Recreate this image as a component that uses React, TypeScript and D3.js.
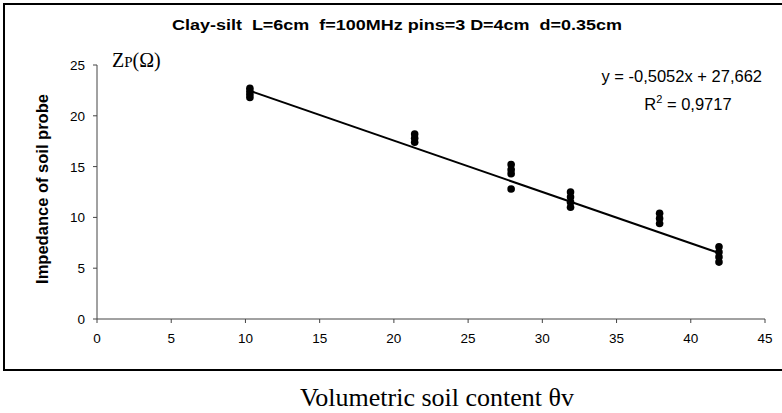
import React from "react";
import * as d3 from "d3";

const xGroups = [10.3, 21.4, 27.9, 31.9, 37.9, 41.9];
const yGroups = [
  [22.7, 22.4, 22.1, 21.8],
  [18.2, 17.8, 17.4],
  [15.2, 14.7, 14.3, 12.8],
  [12.5, 12.0, 11.5, 11.0],
  [10.4, 9.9, 9.4],
  [7.1, 6.6, 6.1, 5.6],
];
const xTicks = [0, 5, 10, 15, 20, 25, 30, 35, 40, 45];
const yTicks = [0, 5, 10, 15, 20, 25];
const slope = -0.5052;
const intercept = 27.662;
const title = "Clay-silt  L=6cm  f=100MHz pins=3 D=4cm  d=0.35cm";

export default function App() {
  const W = 782, H = 413;
  const x = d3.scaleLinear().domain([0, 45]).range([97, 765]);
  const y = d3.scaleLinear().domain([0, 25]).range([319, 65]);
  const points = xGroups.flatMap((xv, i) => yGroups[i].map((yv) => [xv, yv]));
  const x0 = d3.min(xGroups)!, x1 = d3.max(xGroups)!;
  const line = d3.line<number>().x((d) => x(d)).y((d) => y(slope * d + intercept));
  const axisColor = "#444";
  return (
    <svg width={W} height={H} style={{ position: "absolute", left: 0, top: 0, background: "#fff" }}>
      <rect x={0} y={0} width={W} height={H} fill="#fff" />
      <rect x={4} y={4} width={W + 10} height={366} fill="none" stroke="#000" strokeWidth={2} />
      <text
        x={172}
        y={30}
        textLength={450}
        lengthAdjust="spacingAndGlyphs"
        style={{ whiteSpace: "pre" }}
        fontFamily="Liberation Sans, Arial"
        fontWeight="bold"
        fontSize={14}
      >
        {title}
      </text>
      {/* axes */}
      <line x1={x(0)} x2={x(45)} y1={y(0)} y2={y(0)} stroke={axisColor} strokeWidth={1} />
      <line x1={x(0)} x2={x(0)} y1={y(0)} y2={y(25)} stroke={axisColor} strokeWidth={1} />
      {xTicks.map((t) => (
        <g key={"x" + t}>
          <line x1={x(t)} x2={x(t)} y1={y(0)} y2={y(0) + 4} stroke={axisColor} />
          <text x={x(t)} y={y(0) + 24} textAnchor="middle" fontFamily="Liberation Sans, Arial" fontSize={13.5}>
            {t}
          </text>
        </g>
      ))}
      {yTicks.map((t) => (
        <g key={"y" + t}>
          <line x1={x(0) - 4} x2={x(0)} y1={y(t)} y2={y(t)} stroke={axisColor} />
          <text x={x(0) - 12} y={y(t) + 5} textAnchor="end" fontFamily="Liberation Sans, Arial" fontSize={13.5}>
            {t}
          </text>
        </g>
      ))}
      <text
        transform={`translate(48,189) rotate(-90)`}
        textAnchor="middle"
        fontFamily="Liberation Sans, Arial"
        fontWeight="bold"
        fontSize={16.5}
      >
        Impedance of soil probe
      </text>
      <text x={112} y={67} fontFamily="Liberation Serif, Times New Roman" fontSize={20}>
        Z<tspan fontSize={15}>P</tspan>(Ω)
      </text>
      {/* trend line */}
      <path d={line([x0, x1]) || ""} fill="none" stroke="#000" strokeWidth={2} />
      {points.map((p, i) => (
        <circle key={i} cx={x(p[0])} cy={y(p[1])} r={3.8} fill="#000" />
      ))}
      <text x={762} y={82} textAnchor="end" fontFamily="Liberation Sans, Arial" fontSize={16.5}>
        y = -0,5052x + 27,662
      </text>
      <text x={688} y={110} textAnchor="middle" fontFamily="Liberation Sans, Arial" fontSize={16.5}>
        R<tspan dy={-7} fontSize={11}>2</tspan><tspan dy={7}> = 0,9717</tspan>
      </text>
      <text x={437} y={406} textAnchor="middle" fontFamily="Liberation Serif, Times New Roman" fontSize={26}>
        Volumetric soil content θv
      </text>
    </svg>
  );
}
